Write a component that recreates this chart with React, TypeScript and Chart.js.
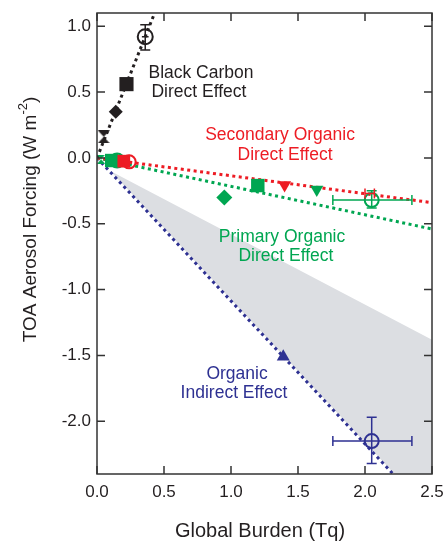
import React, { useEffect, useRef } from "react";
import { Chart, registerables } from "chart.js";
Chart.register(...registerables);

// ---------- data ----------
const xTicks = [0, 0.5, 1.0, 1.5, 2.0, 2.5];
const yTicks = [-2.0, -1.5, -1.0, -0.5, 0.0, 0.5, 1.0];
const xMin = 0, xMax = 2.5;
const yMin = -2.4, yMax = 1.1;

// fitted lines (end points)
const bcLine = [{ x: 0, y: 0 }, { x: 0.43, y: 1.1 }];
const soaLine = [{ x: 0, y: 0 }, { x: 2.5, y: -0.34 }];
const poaLine = [{ x: 0, y: 0 }, { x: 2.5, y: -0.54 }];
const indLine = [{ x: 0, y: 0 }, { x: 2.21, y: -2.4 }];
// shaded range of indirect effect
const indRange = [
  { x: 0.1, y: -0.1 },
  { x: 2.5, y: -1.38 },
  { x: 2.5, y: -2.4 },
  { x: 2.22, y: -2.4 },
  { x: 0.1, y: -0.1 },
];

// black carbon
const bcHourglass = [{ x: 0.05, y: 0.16 }];
const bcDiamond = [{ x: 0.14, y: 0.35 }];
const bcSquare = [{ x: 0.22, y: 0.56 }];
const bcCircle = [{ x: 0.36, y: 0.92 }];
// primary organic
const poaHourglass = [{ x: 0.03, y: -0.01 }];
const poaSquare = [{ x: 0.11, y: -0.02 }, { x: 1.2, y: -0.21 }];
const poaCircle = [{ x: 0.15, y: -0.02 }, { x: 2.05, y: -0.32 }];
const poaDiamond = [{ x: 0.95, y: -0.3 }];
const poaTriDown = [{ x: 1.64, y: -0.24 }];
// secondary organic
const soaSquare = [{ x: 0.2, y: -0.025 }];
const soaCircle = [{ x: 0.24, y: -0.03 }];
const soaTriDown = [{ x: 1.4, y: -0.205 }];
// indirect
const indTriUp = [{ x: 1.39, y: -1.51 }];
const indCircle = [{ x: 2.05, y: -2.15 }];

// error bars: [x, y, xLow, xHigh, yLow, yHigh]
const bcErr = [[0.36, 0.92, 0.335, 0.385, 0.82, 1.01]];
const poaErr = [[2.05, -0.32, 1.76, 2.35, -0.38, -0.25]];
const soaErr = [[2.03, -0.27, 2.0, 2.07, -0.27, -0.27]];
const indErr = [[2.05, -2.15, 1.76, 2.35, -2.32, -1.97]];

// annotations: text, x, y (data coords)
const bcLabels = [["Black Carbon", 0.776, 0.646], ["Direct Effect", 0.761, 0.5]];
const soaLabels = [["Secondary Organic", 1.366, 0.175], ["Direct Effect", 1.403, 0.023]];
const poaLabels = [["Primary Organic", 1.381, -0.6], ["Direct Effect", 1.41, -0.745]];
const indLabels = [["Organic", 1.045, -1.641], ["Indirect Effect", 1.022, -1.786]];

const xTitle = "Global Burden (Tq)";
const yTitleMain = "TOA Aerosol Forcing (W m";
const yTitleSup = "-2";
const yTitleEnd = ")";

// ---------- style ----------
const FONT = '"Liberation Sans", Arial, Helvetica, sans-serif';
const BLACK = "#231f20";
const RED = "#ed1c24";
const GREEN = "#00a651";
const BLUE = "#2e3192";
const GRAY = "#dcdee2";
const AXIS = "#333333";

function makeHourglass(color: string, w: number, h: number) {
  const c = document.createElement("canvas");
  c.width = w;
  c.height = h;
  const g = c.getContext("2d")!;
  g.fillStyle = color;
  g.beginPath();
  g.moveTo(0, 0);
  g.lineTo(w, 0);
  g.lineTo(w / 2, h / 2);
  g.closePath();
  g.fill();
  g.beginPath();
  g.moveTo(0, h);
  g.lineTo(w, h);
  g.lineTo(w / 2, h / 2);
  g.closePath();
  g.fill();
  return c;
}

const lineDs = (data: any[], color: string) => ({
  type: "line" as const,
  data,
  showLine: true,
  borderColor: color,
  borderWidth: 3,
  borderDash: [3, 3.5],
  borderCapStyle: "butt" as const,
  pointRadius: 0,
  fill: false,
  order: 5,
});

const markerDs = (data: any[], color: string, style: any, radius: number, filled = true, rotation = 0) => ({
  type: "scatter" as const,
  data,
  showLine: false,
  pointStyle: style,
  pointRadius: radius,
  pointRotation: rotation,
  pointBackgroundColor: filled ? color : "rgba(255,255,255,0)",
  pointBorderColor: color,
  pointBorderWidth: filled ? 0 : 2,
  order: 0,
});

const errorPlugin = {
  id: "errorBars",
  afterDatasetsDraw(chart: any) {
    const { ctx, scales } = chart;
    const xs = scales.x, ys = scales.y;
    const groups: [number[][], string, boolean][] = [
      [bcErr, BLACK, false],
      [poaErr, GREEN, true],
      [soaErr, RED, true],
      [indErr, BLUE, true],
    ];
    ctx.save();
    ctx.lineWidth = 1.5;
    for (const [arr, color, caps] of groups) {
      ctx.strokeStyle = color;
      for (const [x, y, xl, xh, yl, yh] of arr) {
        const px = xs.getPixelForValue(x), py = ys.getPixelForValue(y);
        ctx.beginPath();
        if (xl !== xh) {
          const a = xs.getPixelForValue(xl), b = xs.getPixelForValue(xh);
          ctx.moveTo(a, py); ctx.lineTo(b, py);
          if (caps) {
            ctx.moveTo(a, py - 5); ctx.lineTo(a, py + 5);
            ctx.moveTo(b, py - 5); ctx.lineTo(b, py + 5);
          }
        }
        if (yl !== yh) {
          const a = ys.getPixelForValue(yl), b = ys.getPixelForValue(yh);
          ctx.moveTo(px, a); ctx.lineTo(px, b);
          ctx.moveTo(px - 5, a); ctx.lineTo(px + 5, a);
          ctx.moveTo(px - 5, b); ctx.lineTo(px + 5, b);
        }
        ctx.stroke();
      }
    }
    ctx.restore();
  },
};

const decorPlugin = {
  id: "decor",
  afterDraw(chart: any) {
    const { ctx, scales, chartArea: ca } = chart;
    const xs = scales.x, ys = scales.y;
    ctx.save();
    // frame
    ctx.strokeStyle = AXIS;
    ctx.lineWidth = 1.5;
    ctx.strokeRect(ca.left, ca.top, ca.right - ca.left, ca.bottom - ca.top);
    // inward ticks
    const TL = 8;
    ctx.beginPath();
    for (const v of xTicks) {
      const p = xs.getPixelForValue(v);
      ctx.moveTo(p, ca.bottom); ctx.lineTo(p, ca.bottom - TL);
      ctx.moveTo(p, ca.top); ctx.lineTo(p, ca.top + TL);
    }
    for (const v of yTicks) {
      const p = ys.getPixelForValue(v);
      ctx.moveTo(ca.left, p); ctx.lineTo(ca.left + TL, p);
      ctx.moveTo(ca.right, p); ctx.lineTo(ca.right - TL, p);
    }
    ctx.stroke();

    // annotations
    ctx.textAlign = "center";
    ctx.textBaseline = "middle";
    ctx.font = `17.5px ${FONT}`;
    const groups: [any[], string][] = [
      [bcLabels, BLACK],
      [soaLabels, RED],
      [poaLabels, GREEN],
      [indLabels, BLUE],
    ];
    for (const [labels, color] of groups) {
      ctx.fillStyle = color;
      for (const [t, x, y] of labels) {
        ctx.fillText(t, xs.getPixelForValue(x), ys.getPixelForValue(y));
      }
    }

    // x title
    ctx.fillStyle = BLACK;
    ctx.font = `20px ${FONT}`;
    ctx.textBaseline = "alphabetic";
    ctx.fillText(xTitle, 260, 537);

    // y title with superscript
    ctx.translate(36, 219.5);
    ctx.rotate(-Math.PI / 2);
    ctx.textAlign = "left";
    ctx.font = `19px ${FONT}`;
    const w1 = ctx.measureText(yTitleMain).width;
    const w3 = ctx.measureText(yTitleEnd).width;
    ctx.font = `13px ${FONT}`;
    const w2 = ctx.measureText(yTitleSup).width;
    const start = -(w1 + w2 + w3) / 2;
    ctx.font = `19px ${FONT}`;
    ctx.fillText(yTitleMain, start, 0);
    ctx.font = `13px ${FONT}`;
    ctx.fillText(yTitleSup, start + w1, -9);
    ctx.font = `19px ${FONT}`;
    ctx.fillText(yTitleEnd, start + w1 + w2, 0);
    ctx.restore();
  },
};

export default function App() {
  const ref = useRef<HTMLCanvasElement>(null);
  useEffect(() => {
    const hgBlack = makeHourglass(BLACK, 12, 13);
    const hgGreen = makeHourglass(GREEN, 8, 9);
    const chart = new Chart(ref.current!, {
      type: "scatter",
      data: {
        datasets: [
          // markers
          markerDs(bcHourglass, BLACK, hgBlack, 7),
          markerDs(bcDiamond, BLACK, "rectRot", 7),
          markerDs(bcSquare, BLACK, "rect", 10),
          markerDs(bcCircle, BLACK, "circle", 7.5, false),
          markerDs(indTriUp, BLUE, "triangle", 7.5),
          markerDs(indCircle, BLUE, "circle", 7, false),
          markerDs(soaCircle, RED, "circle", 6.5, false),
          markerDs(soaSquare, RED, "rect", 9),
          markerDs(soaTriDown, RED, "triangle", 7.5, true, 180),
          markerDs(poaCircle, GREEN, "circle", 7, false),
          markerDs(poaSquare, GREEN, "rect", 9.5),
          markerDs(poaDiamond, GREEN, "rectRot", 8),
          markerDs(poaTriDown, GREEN, "triangle", 7.5, true, 180),
          markerDs(poaHourglass, GREEN, hgGreen, 5),
          // lines
          lineDs(bcLine, BLACK),
          lineDs(soaLine, RED),
          lineDs(poaLine, GREEN),
          lineDs(indLine, BLUE),
          // shaded range
          {
            type: "line" as const,
            data: indRange,
            showLine: true,
            borderWidth: 0,
            borderColor: "rgba(0,0,0,0)",
            backgroundColor: GRAY,
            pointRadius: 0,
            fill: "shape",
            order: 10,
          } as any,
        ] as any,
      },
      options: {
        responsive: false,
        animation: false,
        events: [],
        layout: { padding: { left: 0, right: 13, top: 13, bottom: 0 } },
        plugins: { legend: { display: false }, tooltip: { enabled: false } },
        scales: {
          x: {
            type: "linear",
            min: xMin,
            max: xMax,
            afterBuildTicks: (s: any) => { s.ticks = xTicks.map((v) => ({ value: v })); },
            afterFit: (s: any) => {
              s.height = 68;
              s.paddingLeft = 0; s.paddingRight = 0; s.paddingTop = 0; s.paddingBottom = 0;
            },
            grid: { display: false, drawTicks: false },
            border: { display: false },
            ticks: {
              autoSkip: false,
              maxRotation: 0,
              padding: 8,
              color: BLACK,
              font: { family: FONT, size: 17 },
              callback: (v: any) => Number(v).toFixed(1),
            },
          },
          y: {
            type: "linear",
            min: yMin,
            max: yMax,
            afterBuildTicks: (s: any) => { s.ticks = yTicks.map((v) => ({ value: v })); },
            afterFit: (s: any) => {
              s.width = 97;
              s.paddingLeft = 0; s.paddingRight = 0; s.paddingTop = 0; s.paddingBottom = 0;
            },
            grid: { display: false, drawTicks: false },
            border: { display: false },
            ticks: {
              autoSkip: false,
              padding: 6,
              color: BLACK,
              font: { family: FONT, size: 17 },
              callback: (v: any) => Number(v).toFixed(1),
            },
          },
        },
      },
      plugins: [errorPlugin, decorPlugin],
    });
    return () => chart.destroy();
  }, []);
  return (
    <div style={{ position: "absolute", left: 0, top: 0, width: 445, height: 542, background: "#fff" }}>
      <canvas ref={ref} width={445} height={542} />
    </div>
  );
}
